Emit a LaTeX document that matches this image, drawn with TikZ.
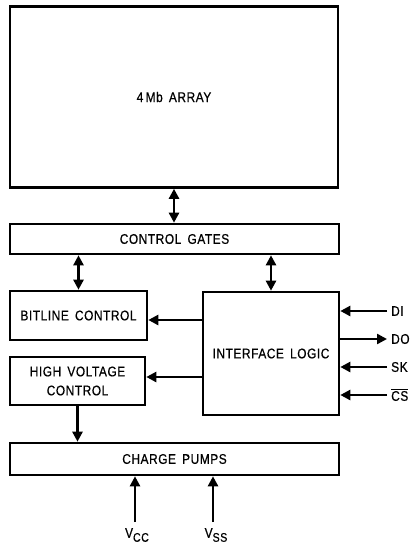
\documentclass[tikz,border=0pt]{standalone}
\usepackage{fontspec}
\setmainfont[LetterSpace=4,FakeStretch=0.85,FakeBold=0.6,WordSpace=1.6]{Liberation Sans}
\usetikzlibrary{arrows.meta}
\begin{document}
\begin{tikzpicture}[x=1pt,y=-1pt,
  blk/.style={draw,line width=2.6pt,rectangle,inner sep=0pt,align=center,font=\fontsize{14}{19}\selectfont},
  arr/.style={line width=2.4pt,-{Triangle[length=10pt,width=10pt]}},
  darr/.style={line width=2.4pt,{Triangle[length=10pt,width=10pt]}-{Triangle[length=10pt,width=10pt]}},
  sig/.style={anchor=west,inner sep=0pt,font=\fontsize{14}{16}\selectfont}]
\useasboundingbox (0,0) rectangle (412,546);
\node[blk,minimum width=328pt,minimum height=181pt] (arr) at (174,97) {4\,Mb ARRAY};
\node[blk,minimum width=329pt,minimum height=30pt] (cg) at (174.5,239) {CONTROL GATES};
\node[blk,minimum width=137pt,minimum height=49pt] (bl) at (78.5,315.5) {BITLINE CONTROL};
\node[blk,minimum width=136pt,minimum height=123pt] (il) at (271,353.5) {INTERFACE LOGIC};
\node[blk,minimum width=135pt,minimum height=48pt] (hv) at (77.5,381) {HIGH VOLTAGE\\CONTROL};
\node[blk,minimum width=329pt,minimum height=32pt] (cp) at (174.5,459) {CHARGE PUMPS};
% vertical connections
\draw[darr] (arr.south) -- (cg.north -| arr.south);
\draw[darr] (cg.south -| bl.north) -- (bl.north);
\draw[darr] (cg.south -| 271,0) -- (il.north -| 271,0);
\draw[arr] (hv.south) -- (cp.north -| hv.south);
% interface to controls
\draw[arr] (il.west |- 0,320) -- (bl.east |- 0,320);
\draw[arr] (il.west |- 0,377) -- (hv.east |- 0,377);
% signals
\node[sig] (di) at (391,311) {DI};
\node[sig] (do) at (391,339) {DO};
\node[sig] (sk) at (391,367) {SK};
\node[sig] (cs) at (391,395) {$\overline{\mbox{CS}}$};
\coordinate (cdi) at (387,311);
\coordinate (cdo) at (387,339);
\coordinate (csk) at (387,367);
\coordinate (ccs) at (387,395);
\draw[arr] (cdi) -- (il.east |- cdi);
\draw[arr] (il.east |- cdo) -- (cdo);
\draw[arr] (csk) -- (il.east |- csk);
\draw[arr] (ccs) -- (il.east |- ccs);
% supplies
\node[inner sep=0pt,font=\fontsize{14}{16}\selectfont] (vcc) at (137,535) {V\raisebox{-4pt}{\fontsize{12.5}{14}\selectfont CC}};
\node[inner sep=0pt,font=\fontsize{14}{16}\selectfont] (vss) at (216,535) {V\raisebox{-4pt}{\fontsize{12.5}{14}\selectfont SS}};
\coordinate (cvcc) at (135,522);
\coordinate (cvss) at (213,522);
\draw[arr] (cvcc) -- (cp.south -| cvcc);
\draw[arr] (cvss) -- (cp.south -| cvss);
\end{tikzpicture}
\end{document}
